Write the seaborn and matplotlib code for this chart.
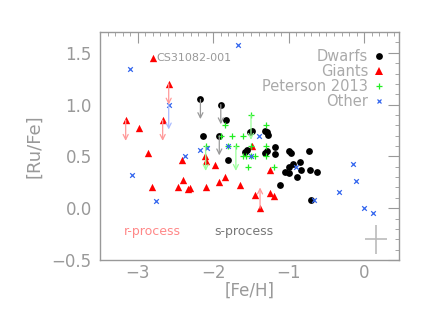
import numpy as np
import pandas as pd
import matplotlib
matplotlib.use("Agg")
import matplotlib.pyplot as plt
import seaborn as sns
from matplotlib.ticker import MultipleLocator

# [Fe/H], [Ru/Fe]; *_ul: 1 = upper limit, -1 = lower limit
giants_feh = [-2.80, -2.59, -3.16, -2.99, -2.67, -2.86, -2.42, -2.11, -2.09, -1.98,
              -2.81, -2.47, -2.40, -2.33, -2.31, -2.10, -1.92, -1.84, -1.64, -1.45,
              -1.38, -1.25, -1.25, -1.20, -1.48]
giants_ru = [1.45, 1.20, 0.85, 0.77, 0.85, 0.53, 0.47, 0.50, 0.46, 0.42,
             0.20, 0.20, 0.27, 0.19, 0.195, 0.20, 0.25, 0.30, 0.22, 0.13,
             0.00, 0.37, 0.15, 0.12, 0.60]
giants_ul = [0, 1, 1, 0, 1, 0, 0, 0, 0, 0, 0, 0, 0, 0, 0, 0, 0, 0, 0, 0, -1, 0, 0, 0, 0]

dwarfs_feh = [-2.17, -1.90, -1.83, -2.13, -1.92, -1.81, -1.51, -1.49, -1.31, -1.29,
              -1.28, -1.58, -1.55, -1.31, -1.29, -1.18, -1.18, -0.99, -0.97, -0.73,
              -0.95, -0.85, -1.00, -0.84, -0.72, -0.63, -1.05, -0.99, -0.89, -1.11, -0.71]
dwarfs_ru = [1.05, 1.00, 0.85, 0.70, 0.70, 0.47, 0.74, 0.75, 0.75, 0.74,
             0.71, 0.54, 0.56, 0.53, 0.55, 0.59, 0.52, 0.55, 0.53, 0.55,
             0.43, 0.45, 0.40, 0.37, 0.37, 0.35, 0.35, 0.34, 0.30, 0.22, 0.08]
dwarfs_ul = [1, 1, 0, 0, 1] + [0] * 26

peterson_feh = [-1.50, -1.85, -1.30, -1.90, -1.75, -1.60, -1.30, -2.10, -1.80, -1.70,
                -1.50, -1.60, -1.56, -1.50, -1.45, -1.30, -1.54, -1.20]
peterson_ru = [0.90, 0.80, 0.80, 0.70, 0.70, 0.70, 0.60, 0.60, 0.60, 0.60,
               0.60, 0.50, 0.50, 0.50, 0.50, 0.50, 0.40, 0.40]
peterson_ul = [1, 0, 0, 0, 0, 0, 0, 1, 0, 1, 0, 0, 0, 0, 0, 0, 0, 0]

other_feh = [-1.67, -3.10, -2.59, -2.18, -2.08, -2.37, -1.40, -1.80, -1.50, -0.90,
             -0.15, -0.11, -0.34, -0.67, 0.00, 0.12, -3.07, -2.76]
other_ru = [1.58, 1.34, 1.00, 0.56, 0.58, 0.50, 0.70, 0.60, 0.50, 0.40,
            0.43, 0.26, 0.16, 0.08, 0.00, -0.05, 0.32, 0.07]
other_ul = [0, 0, 1] + [0] * 15

groups = ["Dwarfs", "Giants", "Peterson 2013", "Other"]
colors = {"Dwarfs": "black", "Giants": "red", "Peterson 2013": "#22ee22", "Other": "#3366ee"}
limit_colors = {"Dwarfs": "#999999", "Giants": "#ff9999", "Peterson 2013": "#99ff99", "Other": "#aabbff"}
markers = {"Dwarfs": "o", "Giants": "^", "Peterson 2013": "+", "Other": "x"}
sizes = {"Dwarfs": 24, "Giants": 28, "Peterson 2013": 16, "Other": 11}
arrow_len = {"Dwarfs": 0.19, "Giants": 0.2, "Peterson 2013": 0.24, "Other": 0.24}

frames = []
for name, fx, ry, ul in [("Giants", giants_feh, giants_ru, giants_ul),
                         ("Dwarfs", dwarfs_feh, dwarfs_ru, dwarfs_ul),
                         ("Peterson 2013", peterson_feh, peterson_ru, peterson_ul),
                         ("Other", other_feh, other_ru, other_ul)]:
    frames.append(pd.DataFrame({"feh": fx, "ru": ry, "limit": ul, "group": name}))
df = pd.concat(frames, ignore_index=True)

sns.set_style("white")
grey = "#999999"

fig = plt.figure(figsize=(4.32, 3.24), dpi=100)
ax = fig.add_axes([0.2315, 0.1975, 0.692, 0.7035])

# limit arrows first so markers sit on top
for _, r in df[df["limit"] != 0].iterrows():
    L = arrow_len[r["group"]]
    dy = -L if r["limit"] > 0 else L
    ax.annotate("", xy=(r["feh"], r["ru"] + dy), xytext=(r["feh"], r["ru"]),
                arrowprops=dict(arrowstyle="->", color=limit_colors[r["group"]],
                                lw=0.9, mutation_scale=9, shrinkA=0, shrinkB=0))

# one call per group (filled and line markers can't be mixed in one call)
for g in ["Giants", "Dwarfs", "Peterson 2013", "Other"]:
    sub = df[df["group"] == g]
    lw = 0 if g in ("Dwarfs", "Giants") else 0.9
    sns.scatterplot(data=sub, x="feh", y="ru", color=colors[g], marker=markers[g],
                    s=sizes[g], linewidth=lw, ax=ax, legend=False)

# legend, IDL style: text right, marker after it
handles = []
for g in groups:
    handles.append(plt.Line2D([], [], ls="", marker=markers[g], color=colors[g],
                              markersize=np.sqrt(sizes[g]),
                              markeredgewidth=0 if g in ("Dwarfs", "Giants") else 0.9))
leg = ax.legend(handles, groups, loc="upper right", frameon=False, markerfirst=False,
                fontsize=10.5, handletextpad=0.2, labelspacing=0.0, handlelength=1.0,
                borderaxespad=0.5, bbox_to_anchor=(1.0, 0.985))
for t in leg.get_texts():
    t.set_color("#aaaaaa")

ax.text(-2.75, 1.45, "CS31082-001", color=grey, fontsize=8, va="center")
ax.text(-3.18, -0.22, "r-process", color="#ff8888", fontsize=9, va="center")
ax.text(-1.99, -0.22, "s-process", color="#777777", fontsize=9, va="center")

# typical error bar
ax.errorbar([0.155], [-0.30], xerr=[0.15], yerr=[0.14], fmt="none",
            ecolor="#bbbbbb", elinewidth=1.2, capsize=0)

ax.set_xlim(-3.5, 0.46)
ax.set_ylim(-0.5, 1.7)
ax.xaxis.set_major_locator(MultipleLocator(1))
ax.xaxis.set_minor_locator(MultipleLocator(0.1))
ax.yaxis.set_major_locator(MultipleLocator(0.5))
ax.yaxis.set_minor_locator(MultipleLocator(0.1))
ax.tick_params(which="both", direction="in", top=True, right=True, colors=grey,
               labelcolor=grey, labelsize=12)
ax.tick_params(which="major", length=8, width=0.8)
ax.tick_params(which="minor", length=3, width=0.6)
ax.tick_params(axis="x", pad=3)
ax.tick_params(axis="y", pad=6)
for s in ax.spines.values():
    s.set_color(grey)
    s.set_linewidth(1.0)

ax.set_xlabel("[Fe/H]", color=grey, fontsize=12, labelpad=0)
ax.set_ylabel("[Ru/Fe]", color=grey, fontsize=13, labelpad=6)

fig.savefig("out.png", dpi=100)
